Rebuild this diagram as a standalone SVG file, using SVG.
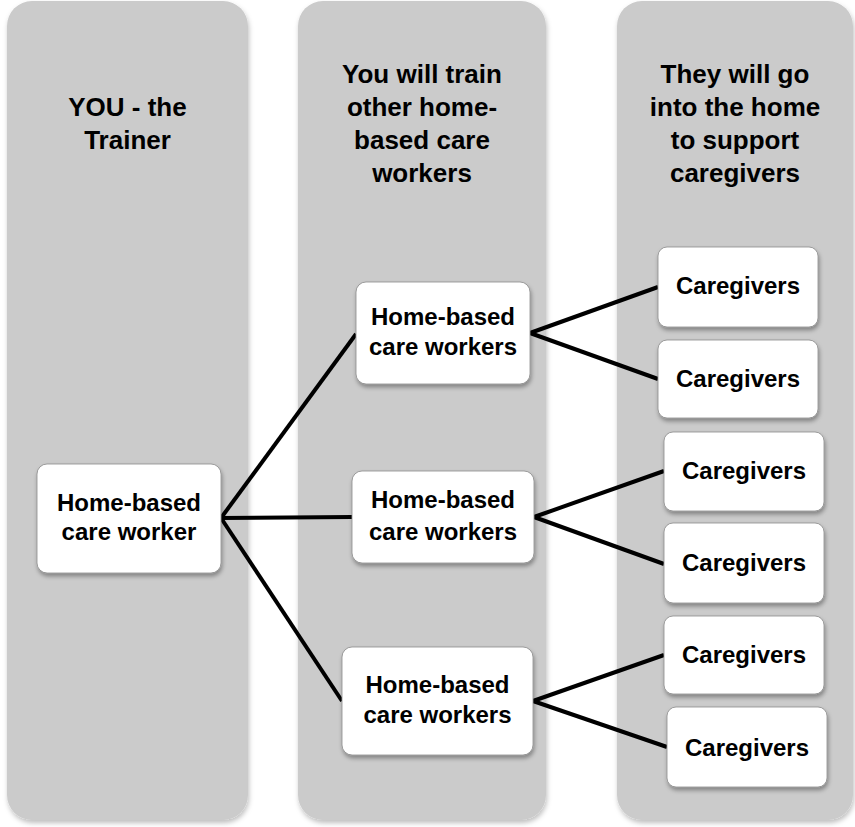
<svg xmlns="http://www.w3.org/2000/svg" width="855" height="827" viewBox="0 0 855 827">
<defs>
<filter id="sh" x="-10%" y="-10%" width="120%" height="120%">
<feDropShadow dx="1" dy="3" stdDeviation="2" flood-color="#000" flood-opacity="0.35"/>
</filter>
<filter id="shc" x="-10%" y="-10%" width="120%" height="120%">
<feDropShadow dx="1" dy="3" stdDeviation="2.5" flood-color="#000" flood-opacity="0.25"/>
</filter>
</defs>
<style>
.col{fill:#cbcbcb;filter:url(#shc)}
.box{fill:#fff;stroke:#8a8a8a;stroke-width:0.8;filter:url(#sh)}
text{font-family:"Liberation Sans",Arial,sans-serif;font-weight:bold;fill:#000;text-anchor:middle}
.h{font-size:26px}
.t{font-size:24px}
.conn line{stroke:#000;stroke-width:4;stroke-linecap:butt}
</style>
<rect width="855" height="827" fill="#fff"/>
<g id="col1"><rect class="col" x="7" y="1" width="241" height="819" rx="25"/>
<text class="h" x="127.5" y="116">YOU - the</text>
<text class="h" x="127.5" y="149">Trainer</text></g>
<g id="col2"><rect class="col" x="298" y="1" width="248" height="819" rx="25"/>
<text class="h" x="422" y="83">You will train</text>
<text class="h" x="422" y="116">other home-</text>
<text class="h" x="422" y="149">based care</text>
<text class="h" x="422" y="182">workers</text></g>
<g id="col3"><rect class="col" x="617" y="1" width="236" height="819" rx="25"/>
<text class="h" x="735" y="83">They will go</text>
<text class="h" x="735" y="116">into the home</text>
<text class="h" x="735" y="149">to support</text>
<text class="h" x="735" y="182">caregivers</text></g>
<g class="conn" id="connectors">
<line x1="221" y1="518" x2="356" y2="334"/>
<line x1="221" y1="518" x2="352" y2="517"/>
<line x1="221" y1="518" x2="342" y2="701"/>
<line x1="530" y1="333" x2="658" y2="287"/>
<line x1="530" y1="333" x2="658" y2="379"/>
<line x1="534" y1="517" x2="664" y2="471"/>
<line x1="534" y1="517" x2="664" y2="564"/>
<line x1="533" y1="701" x2="664" y2="655"/>
<line x1="533" y1="701" x2="667" y2="747"/>
</g>
<g id="trainer"><rect class="box" x="37" y="464" width="184" height="109" rx="10"/>
<text class="t" x="129" y="511">Home-based</text>
<text class="t" x="129" y="540">care worker</text></g>
<g id="hbc1"><rect class="box" x="356" y="282" width="174" height="102" rx="10"/>
<text class="t" x="443" y="325">Home-based</text>
<text class="t" x="443" y="355">care workers</text></g>
<g id="hbc2"><rect class="box" x="352" y="471" width="182" height="92" rx="10"/>
<text class="t" x="443" y="508">Home-based</text>
<text class="t" x="443" y="540">care workers</text></g>
<g id="hbc3"><rect class="box" x="342" y="647" width="191" height="108" rx="10"/>
<text class="t" x="437.5" y="693">Home-based</text>
<text class="t" x="437.5" y="723">care workers</text></g>
<g id="cg1"><rect class="box" x="658" y="247" width="160" height="80" rx="9"/>
<text class="t" x="738" y="294">Caregivers</text></g>
<g id="cg2"><rect class="box" x="658" y="340" width="160" height="78" rx="9"/>
<text class="t" x="738" y="387">Caregivers</text></g>
<g id="cg3"><rect class="box" x="664" y="432" width="160" height="79" rx="9"/>
<text class="t" x="744" y="479">Caregivers</text></g>
<g id="cg4"><rect class="box" x="664" y="523" width="160" height="80" rx="9"/>
<text class="t" x="744" y="571">Caregivers</text></g>
<g id="cg5"><rect class="box" x="664" y="616" width="160" height="78" rx="9"/>
<text class="t" x="744" y="663">Caregivers</text></g>
<g id="cg6"><rect class="box" x="667" y="707" width="160" height="80" rx="9"/>
<text class="t" x="747" y="756">Caregivers</text></g>
</svg>
